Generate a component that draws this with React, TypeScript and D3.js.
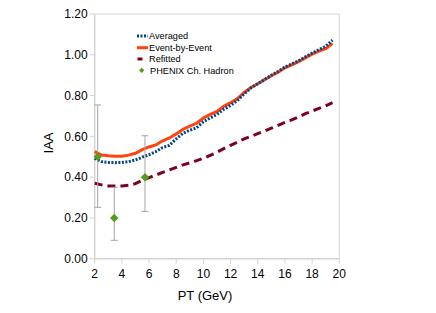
import React from 'react';
import * as d3 from 'd3';

// pt grid (GeV) for the model curves
const pt = [2.0, 2.5, 3.0, 3.5, 4.0, 4.5, 5.0, 5.5, 6.0, 6.5, 7.0, 7.5, 8.0, 8.5, 9.0, 9.5, 10.0, 10.5,
  11.0, 11.5, 12.0, 12.5, 13.0, 13.5, 14.0, 14.5, 15.0, 15.5, 16.0, 16.5, 17.0, 17.5, 18.0, 18.5, 19.0, 19.5];

const averaged = [0.492, 0.476, 0.472, 0.471, 0.472, 0.476, 0.484, 0.498, 0.510, 0.525, 0.545, 0.556, 0.588,
  0.615, 0.630, 0.642, 0.672, 0.690, 0.708, 0.733, 0.752, 0.776, 0.808, 0.838, 0.858, 0.878, 0.900, 0.918,
  0.940, 0.955, 0.970, 0.990, 1.008, 1.025, 1.042, 1.072];

const eventByEvent = [0.525, 0.508, 0.505, 0.503, 0.503, 0.508, 0.517, 0.535, 0.548, 0.558, 0.578, 0.592, 0.612,
  0.635, 0.650, 0.664, 0.690, 0.708, 0.722, 0.748, 0.765, 0.785, 0.815, 0.840, 0.858, 0.878, 0.897, 0.915,
  0.936, 0.951, 0.966, 0.985, 1.003, 1.018, 1.030, 1.056];

const refitted = [0.370, 0.362, 0.357, 0.356, 0.357, 0.360, 0.368, 0.385, 0.398, 0.410, 0.423, 0.435, 0.448,
  0.460, 0.470, 0.481, 0.492, 0.507, 0.522, 0.540, 0.556, 0.572, 0.588, 0.600, 0.613, 0.626, 0.640, 0.654,
  0.668, 0.681, 0.695, 0.711, 0.724, 0.737, 0.750, 0.765];

// PHENIX charged hadron points
const phenixPt = [2.22, 3.44, 5.70];
const phenixIaa = [0.50, 0.20, 0.40];
const phenixHi = [0.754, 0.35, 0.603];
const phenixLo = [0.252, 0.09, 0.232];

const xTicks = [2, 4, 6, 8, 10, 12, 14, 16, 18, 20];
const yTicks = [0, 0.2, 0.4, 0.6, 0.8, 1.0, 1.2];

const legendItems = ['Averaged', 'Event-by-Event', 'Refitted', 'PHENIX Ch. Hadron'];

const W = 436, H = 313;
const left = 94.7, right = 339.3, top = 14, bottom = 258.7;
const font = '"Liberation Sans", Arial, sans-serif';
const axisColor = '#d4d4d4';

export default function App() {
  const x = d3.scaleLinear().domain([2, 20]).range([left, right]);
  const y = d3.scaleLinear().domain([0, 1.2]).range([bottom, top]);

  const line = (vals: number[]) =>
    d3.line<number>().x((_, i) => x(pt[i])).y(d => y(d))(vals) || '';

  const diamond = d3.symbol().type(d3.symbolDiamond2).size(46)() || '';
  const legendRowY = [36, 47.7, 59, 70.3];

  return (
    <svg width={W} height={H} style={{ position: 'absolute', left: 0, top: 0, background: '#fff' }}
      fontFamily={font}>
      {/* plot frame */}
      <line x1={left} x2={right} y1={top} y2={top} stroke={axisColor} strokeWidth={1} />
      <line x1={right} x2={right} y1={top} y2={bottom} stroke={axisColor} strokeWidth={1} />
      <line x1={left} x2={left} y1={top} y2={bottom} stroke={axisColor} strokeWidth={1.5} />
      <line x1={left} x2={right} y1={bottom} y2={bottom} stroke={axisColor} strokeWidth={1.5} />

      {yTicks.map(t => (
        <g key={'y' + t}>
          <line x1={left - 5} x2={left} y1={y(t)} y2={y(t)} stroke={axisColor} />
          <text x={left - 7} y={y(t)} dy="0.35em" textAnchor="end" fontSize={12} fill="#000">
            {t.toFixed(2)}
          </text>
        </g>
      ))}
      {xTicks.map(t => (
        <g key={'x' + t}>
          <line x1={x(t)} x2={x(t)} y1={bottom} y2={bottom + 5} stroke={axisColor} />
          <text x={x(t)} y={274} dy="0.35em" textAnchor="middle" fontSize={12} fill="#000">{t}</text>
        </g>
      ))}

      <text x={205} y={295} dy="0.35em" textAnchor="middle" fontSize={13}>PT (GeV)</text>
      <text transform={`translate(48,143) rotate(-90)`} dy="0.35em" textAnchor="middle" fontSize={13}>IAA</text>

      {/* series */}
      <path d={line(eventByEvent)} fill="none" stroke="#ff420e" strokeWidth={3} />
      <path d={line(averaged)} fill="none" stroke="#004586" strokeWidth={3} strokeDasharray="2 1.5" />
      <path d={line(refitted)} fill="none" stroke="#7e0021" strokeWidth={3} strokeDasharray="8 5" />

      {phenixPt.map((p, i) => (
        <g key={'e' + i}>
          <line x1={x(p)} x2={x(p)} y1={y(phenixHi[i])} y2={y(phenixLo[i])} stroke="#a6a6a6" strokeWidth={1} />
          <line x1={x(p) - 3.5} x2={x(p) + 3.5} y1={y(phenixHi[i])} y2={y(phenixHi[i])} stroke="#a6a6a6" />
          <line x1={x(p) - 3.5} x2={x(p) + 3.5} y1={y(phenixLo[i])} y2={y(phenixLo[i])} stroke="#a6a6a6" />
          <path d={diamond} transform={`translate(${x(p)},${y(phenixIaa[i])})`} fill="#579d1c" />
        </g>
      ))}

      {/* legend */}
      <line x1={137} x2={148} y1={legendRowY[0]} y2={legendRowY[0]} stroke="#004586" strokeWidth={3} strokeDasharray="2 1.5" />
      <line x1={137} x2={148} y1={legendRowY[1]} y2={legendRowY[1]} stroke="#ff420e" strokeWidth={3} />
      <line x1={137.5} x2={142.5} y1={legendRowY[2]} y2={legendRowY[2]} stroke="#7e0021" strokeWidth={3} />
      <path d={d3.symbol().type(d3.symbolDiamond2).size(18)() || ''}
        transform={`translate(141.7,${legendRowY[3]})`} fill="#579d1c" />
      {legendItems.map((name, i) => (
        <text key={name} x={i === 3 ? 150 : 149} y={legendRowY[i]} dy="0.35em" fontSize={9.2} fill="#000">{name}</text>
      ))}
    </svg>
  );
}
